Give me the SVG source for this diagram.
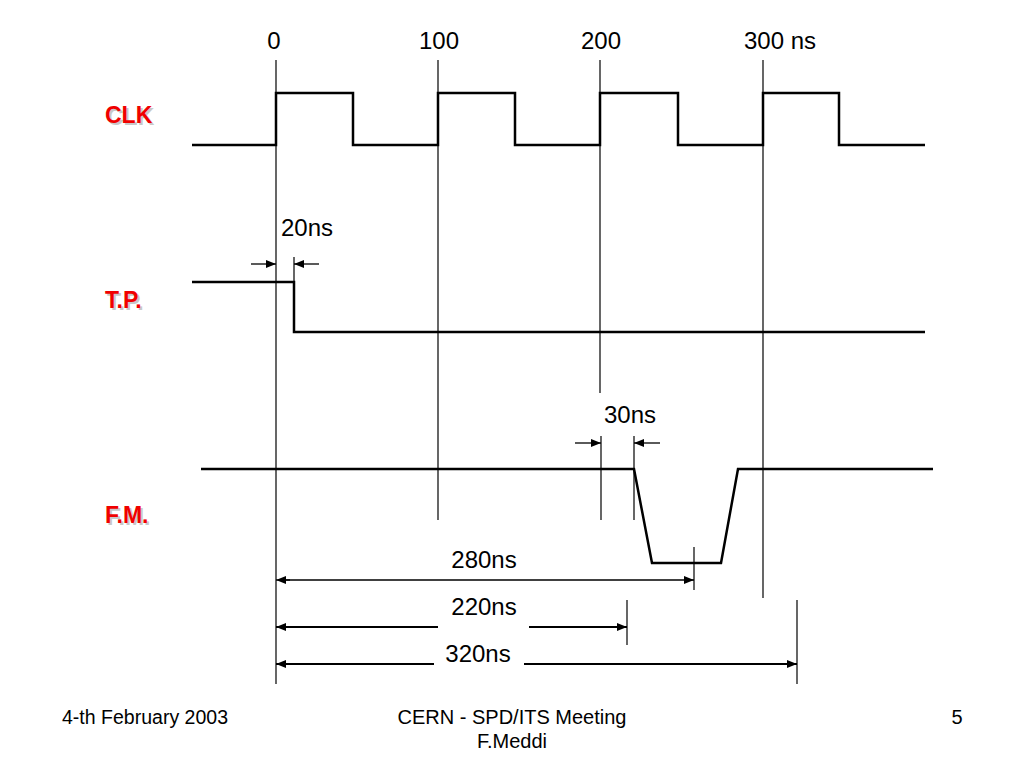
<svg xmlns="http://www.w3.org/2000/svg" width="1024" height="768" viewBox="0 0 1024 768">
<style>
.sig{fill:none;stroke:#000;stroke-width:2.5;stroke-linejoin:miter}
.ref{fill:none;stroke:#000;stroke-width:1.2}
.dim{fill:none;stroke:#000;stroke-width:1.3}
.dimb{fill:none;stroke:#000;stroke-width:2}
.t{font-family:"Liberation Sans",Arial,sans-serif;font-size:24px;fill:#000}
.lab{font-family:"Liberation Sans",Arial,sans-serif;font-size:23px;font-weight:bold;fill:#f00000}
.sh{font-family:"Liberation Sans",Arial,sans-serif;font-size:23px;font-weight:bold;fill:#c8c8c8}
.f{font-family:"Liberation Sans",Arial,sans-serif;font-size:20px;fill:#000}
</style>
<defs>
<marker id="ah" viewBox="0 0 10 8" refX="10" refY="4" markerWidth="10" markerHeight="8" markerUnits="userSpaceOnUse" orient="auto">
<path d="M0,0 L10,4 L0,8 Z" fill="#000"/>
</marker>
</defs>
<rect width="1024" height="768" fill="#fff"/>

<g id="time-axis">
<text class="t" x="274" y="49" text-anchor="middle">0</text>
<text class="t" x="439" y="49" text-anchor="middle">100</text>
<text class="t" x="601" y="49" text-anchor="middle">200</text>
<text class="t" x="744" y="49">300 ns</text>
</g>

<g id="reference-lines">
<line class="ref" x1="276" y1="60" x2="276" y2="684"/>
<line class="ref" x1="438" y1="60" x2="438" y2="520"/>
<line class="ref" x1="600" y1="60" x2="600" y2="393"/>
<line class="ref" x1="763" y1="60" x2="763" y2="598"/>
</g>

<g id="clk">
<text class="sh" x="107" y="125">CLK</text>
<text class="lab" x="105" y="123">CLK</text>
<polyline class="sig" points="192,145 276,145 276,93 353,93 353,145 438,145 438,93 515,93 515,145 600,145 600,93 678,93 678,145 763,145 763,93 839,93 839,145 925,145"/>
</g>

<g id="tp">
<text class="sh" x="107" y="310">T.P.</text>
<text class="lab" x="105" y="308">T.P.</text>
<polyline class="sig" points="192,282 294,282 294,332 925,332"/>
</g>

<g id="fm">
<text class="sh" x="107" y="525">F.M.</text>
<text class="lab" x="105" y="523">F.M.</text>
<polyline class="sig" points="201,469 634,469 652,563 721,563 738,469 933,469"/>
</g>

<g id="connectors">
<!-- 20ns -->
<line class="ref" x1="294" y1="257" x2="294" y2="282"/>
<line class="dim" x1="251" y1="264" x2="276" y2="264" marker-end="url(#ah)"/>
<line class="dim" x1="319" y1="264" x2="294" y2="264" marker-end="url(#ah)"/>
<text class="t" x="307" y="236" text-anchor="middle">20ns</text>
<!-- 30ns -->
<line class="ref" x1="601" y1="436" x2="601" y2="520"/>
<line class="ref" x1="634" y1="436" x2="634" y2="520"/>
<line class="dim" x1="575" y1="443" x2="601" y2="443" marker-end="url(#ah)"/>
<line class="dim" x1="660" y1="443" x2="634" y2="443" marker-end="url(#ah)"/>
<text class="t" x="630" y="423" text-anchor="middle">30ns</text>
<!-- 280ns -->
<line class="ref" x1="694" y1="547" x2="694" y2="590"/>
<line class="dim" x1="284" y1="580" x2="694" y2="580" marker-end="url(#ah)"/>
<line class="dim" x1="290" y1="580" x2="276" y2="580" marker-end="url(#ah)"/>
<text class="t" x="484" y="568" text-anchor="middle">280ns</text>
<!-- 220ns -->
<line class="ref" x1="627" y1="600" x2="627" y2="645"/>
<line class="dimb" x1="438" y1="627" x2="276" y2="627" marker-end="url(#ah)"/>
<line class="dimb" x1="529" y1="627" x2="627" y2="627" marker-end="url(#ah)"/>
<text class="t" x="484" y="615" text-anchor="middle">220ns</text>
<!-- 320ns -->
<line class="ref" x1="797" y1="600" x2="797" y2="684"/>
<line class="dimb" x1="434" y1="664" x2="276" y2="664" marker-end="url(#ah)"/>
<line class="dimb" x1="524" y1="664" x2="797" y2="664" marker-end="url(#ah)"/>
<text class="t" x="478" y="662" text-anchor="middle">320ns</text>
</g>

<g id="footer">
<text class="f" x="62" y="724" textLength="166" lengthAdjust="spacingAndGlyphs">4-th February 2003</text>
<text class="f" x="512" y="724" text-anchor="middle">CERN - SPD/ITS Meeting</text>
<text class="f" x="512" y="748" text-anchor="middle">F.Meddi</text>
<text class="f" x="957" y="724" text-anchor="middle">5</text>
</g>
</svg>
